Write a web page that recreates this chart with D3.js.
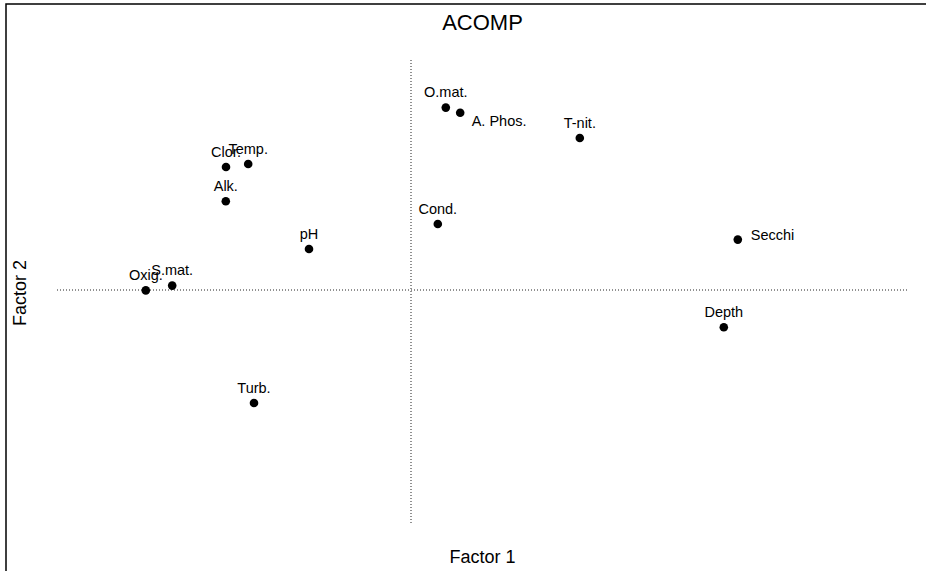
<!DOCTYPE html>
<html>
<head>
<meta charset="utf-8">
<script src="https://cdn.jsdelivr.net/npm/d3@7"></script>
<style>
  body { margin: 0; background: #fff; }
  text { font-family: "Liberation Sans", Arial, sans-serif; fill: #000; }
</style>
</head>
<body>
<div id="chart"></div>
<script>
// variable names and their factor loadings
const labels  = ["Clor.", "Temp.", "Alk.", "pH", "Oxig.", "S.mat.", "O.mat.", "A. Phos.", "T-nit.", "Cond.", "Secchi", "Depth", "Turb."];
const factor1 = [-0.4625, -0.407, -0.463, -0.255, -0.663, -0.597, 0.087, 0.123, 0.422, 0.067, 0.817, 0.782, -0.3925];
const factor2 = [0.3075, 0.315, 0.222, 0.1025, -0.001, 0.011, 0.456, 0.443, 0.38, 0.165, 0.126, -0.093, -0.2825];
// where each label sits relative to its point
const labelPos = ["n", "n", "n", "n", "n", "n", "n", "se", "n", "n", "e", "n", "n"];

const xDomain = [-0.885, 1.2425];
const yDomain = [-0.5825, 0.58];

const width = 926, height = 571;
const plot = {left: 57, right: 908, top: 58, bottom: 523};

const svg = d3.select("#chart").append("svg")
    .attr("width", width)
    .attr("height", height);

// frame (runs off the right and bottom edges)
svg.append("rect")
    .attr("x", 6).attr("y", 4)
    .attr("width", width + 20).attr("height", height + 20)
    .attr("fill", "none")
    .attr("stroke", "#000")
    .attr("stroke-width", 1.5);

const xScale = d3.scaleLinear().domain(xDomain).range([plot.left, plot.right]);
const yScale = d3.scaleLinear().domain(yDomain).range([plot.bottom, plot.top]);

// dotted zero lines
svg.append("line")
    .attr("x1", xScale(xDomain[0])).attr("x2", xScale(xDomain[1]))
    .attr("y1", yScale(0)).attr("y2", yScale(0))
    .attr("stroke", "#222").attr("stroke-width", 1)
    .attr("stroke-dasharray", "1,2");
svg.append("line")
    .attr("x1", xScale(0)).attr("x2", xScale(0))
    .attr("y1", yScale(yDomain[0])).attr("y2", yScale(yDomain[1]))
    .attr("stroke", "#222").attr("stroke-width", 1)
    .attr("stroke-dasharray", "1,2");

const data = labels.map((name, i) => ({name, x: factor1[i], y: factor2[i], pos: labelPos[i]}));

const markers = svg.append("g").attr("class", "markersG")
    .selectAll(".markerG")
    .data(data)
    .join("g")
    .attr("class", "markerG")
    .attr("transform", d => "translate(" + xScale(d.x) + "," + yScale(d.y) + ")");

markers.append("circle")
    .attr("r", 4.3)
    .attr("fill", "#000");

markers.append("text")
    .attr("font-size", "14.5px")
    .attr("text-anchor", d => d.pos === "n" ? "middle" : "start")
    .attr("x", d => d.pos === "n" ? 0 : (d.pos === "e" ? 13 : 11.5))
    .attr("y", d => d.pos === "n" ? -10.5 : (d.pos === "e" ? 0 : 13))
    .text(d => d.name);

// title and axis labels
svg.append("text")
    .attr("x", (plot.left + plot.right) / 2)
    .attr("y", 30)
    .attr("text-anchor", "middle")
    .style("font-size", "22px")
    .text("ACOMP");

svg.append("text")
    .attr("x", (plot.left + plot.right) / 2)
    .attr("y", 563)
    .attr("text-anchor", "middle")
    .style("font-size", "18px")
    .text("Factor 1");

svg.append("text")
    .attr("transform", "rotate(-90)")
    .attr("x", -293)
    .attr("y", 26)
    .attr("text-anchor", "middle")
    .style("font-size", "18px")
    .text("Factor 2");
</script>
</body>
</html>
